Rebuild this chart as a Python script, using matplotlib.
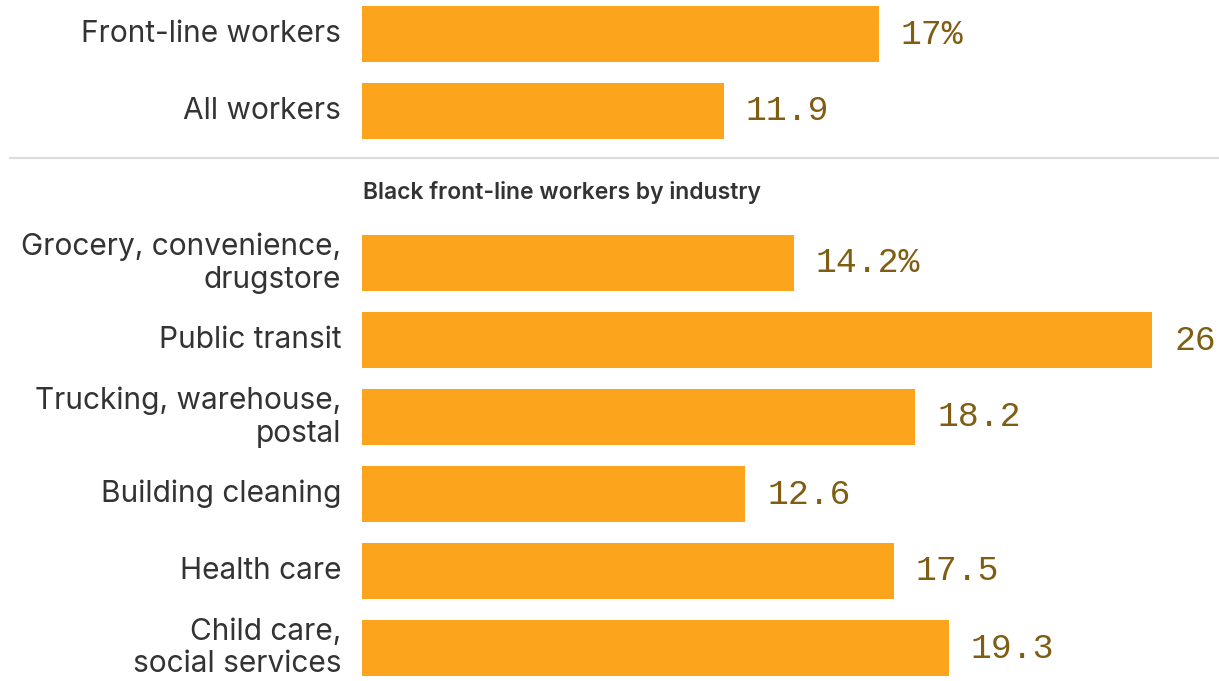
import matplotlib
matplotlib.use('Agg')
import matplotlib.pyplot as plt

# top comparison
top_labels = ['Front-line workers', 'All workers']
top_values = [17, 11.9]
top_text = ['17%', '11.9']

# industry breakdown
ind_labels = ['Grocery, convenience,\ndrugstore', 'Public transit',
              'Trucking, warehouse,\npostal', 'Building cleaning',
              'Health care', 'Child care,\nsocial services']
ind_values = [14.2, 26, 18.2, 12.6, 17.5, 19.3]
ind_text = ['14.2%', '26', '18.2', '12.6', '17.5', '19.3']

subtitle = 'Black front-line workers by industry'

W, H = 1219, 681
bar_color = '#FCA41B'
val_color = '#7F5D12'
lab_color = '#333333'
px = 0.72  # points per pixel at dpi 100

fig = plt.figure(figsize=(W / 100, H / 100), dpi=100)
ax = fig.add_axes([0, 0, 1, 1])
scale = 30.4  # pixels per unit
x0 = 362
ax.set_xlim(-x0 / scale, (W - x0) / scale)
ax.set_ylim(H, 0)
ax.axis('off')

step, bh = 77, 56
top_y = [34 + step * i for i in range(len(top_labels))]
ind_y = [263 + step * i for i in range(len(ind_labels))]


def draw(ys, vals, labels, texts):
    ax.barh(ys, vals, height=bh, color=bar_color, left=0)
    for y, v, lab, t in zip(ys, vals, labels, texts):
        ax.annotate(lab, xy=(0, y), xytext=(-21 * px, 0), textcoords='offset points',
                    ha='right', va='center', fontsize=21.5, color=lab_color,
                    family='Inter', linespacing=1.22)
        ax.annotate(t, xy=(v, y), xytext=(22 * px, 0), textcoords='offset points',
                    ha='left', va='center', fontsize=25, color=val_color,
                    family='Liberation Mono')


draw(top_y, top_values, top_labels, top_text)
draw(ind_y, ind_values, ind_labels, ind_text)

fig.add_artist(plt.Line2D([10 / W, 1], [1 - 158 / H, 1 - 158 / H], color='#dddddd', lw=1.5))
ax.text(1 / scale, 192, subtitle, ha='left', va='center', fontsize=16.5,
        fontweight='semibold', color=lab_color, family='Inter')

fig.savefig('out.png', dpi=100)
